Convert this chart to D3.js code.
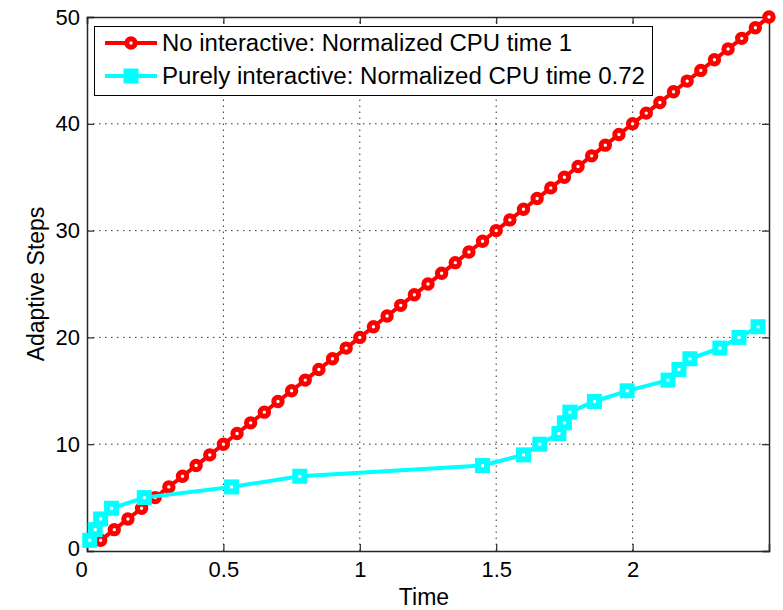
<!DOCTYPE html>
<html>
<head>
<meta charset="utf-8">
<script src="https://cdn.jsdelivr.net/npm/d3@7"></script>
<style>
  body { margin:0; background:#fff; }
  svg { display:block; font-family:"Liberation Sans", Arial, sans-serif; }
</style>
</head>
<body>
<svg id="chart" width="783" height="610"></svg>
<script>
// ===== DATA =====
const xTicks = [0, 0.5, 1, 1.5, 2];
const yTicks = [0, 10, 20, 30, 40, 50];
const legendLabels = ["No interactive: Normalized CPU time 1", "Purely interactive: Normalized CPU time 0.72"];

const noInterTime = [0.05,0.10,0.15,0.20,0.25,0.30,0.35,0.40,0.45,0.50,
                     0.55,0.60,0.65,0.70,0.75,0.80,0.85,0.90,0.95,1.00,
                     1.05,1.10,1.15,1.20,1.25,1.30,1.35,1.40,1.45,1.50,
                     1.55,1.60,1.65,1.70,1.75,1.80,1.85,1.90,1.95,2.00,
                     2.05,2.10,2.15,2.20,2.25,2.30,2.35,2.40,2.45,2.50];
const noInterSteps = [1,2,3,4,5,6,7,8,9,10,11,12,13,14,15,16,17,18,19,20,
                      21,22,23,24,25,26,27,28,29,30,31,32,33,34,35,36,37,38,39,40,
                      41,42,43,44,45,46,47,48,49,50];

const interTime  = [0.01,0.03,0.05,0.09,0.21,0.53,0.78,1.45,1.60,1.66,1.73,1.75,1.77,1.86,1.98,2.13,2.17,2.21,2.32,2.39,2.46];
const interSteps = [1,2,3,4,5,6,7,8,9,10,11,12,13,14,15,16,17,18,19,20,21];

// ===== SETUP =====
const svg = d3.select("#chart");
const margin = {top:17, right:14, bottom:59, left:87};
const W = 783, H = 610;
const x = d3.scaleLinear().domain([0, 2.5]).range([margin.left, W - margin.right]);
const y = d3.scaleLinear().domain([0, 50]).range([H - margin.bottom, margin.top]);
const x0 = x.range()[0], x1 = x.range()[1], y0 = y.range()[0], y1 = y.range()[1];
const tickLen = 7;
const axisColor = "#262626";

// grid
svg.append("g").selectAll("line").data(xTicks.slice(1)).join("line")
  .attr("x1", d => x(d)).attr("x2", d => x(d)).attr("y1", y0).attr("y2", y1)
  .attr("stroke", "#333").attr("stroke-width", 1).attr("stroke-dasharray", "1.5,4.5");
svg.append("g").selectAll("line").data(yTicks.slice(1, -1)).join("line")
  .attr("x1", x0).attr("x2", x1).attr("y1", d => y(d)).attr("y2", d => y(d))
  .attr("stroke", "#333").attr("stroke-width", 1).attr("stroke-dasharray", "1.5,4.5");

// axes (inner ticks on all four sides)
const axBottom = svg.append("g").attr("transform", `translate(0,${y0})`)
  .call(d3.axisBottom(x).tickValues(xTicks).tickSize(-tickLen).tickPadding(12).tickFormat(d3.format("")));
const axTop = svg.append("g").attr("transform", `translate(0,${y1})`)
  .call(d3.axisTop(x).tickValues(xTicks).tickSize(-tickLen).tickFormat(""));
const axLeft = svg.append("g").attr("transform", `translate(${x0},0)`)
  .call(d3.axisLeft(y).tickValues(yTicks).tickSize(-tickLen).tickPadding(7));
const axRight = svg.append("g").attr("transform", `translate(${x1},0)`)
  .call(d3.axisRight(y).tickValues(yTicks).tickSize(-tickLen).tickFormat(""));

[axBottom, axTop, axLeft, axRight].forEach(g => {
  g.select(".domain").attr("stroke", axisColor).attr("stroke-width", 1.5);
  g.selectAll(".tick line").attr("stroke", axisColor).attr("stroke-width", 1.2);
  g.selectAll("text").attr("font-size", 22).attr("fill", "#000")
    .attr("font-family", "'Liberation Sans', Arial, sans-serif");
});
axBottom.selectAll(".tick text").attr("dy", "0.62em");
axBottom.selectAll(".tick").filter(d => d === 0).select("text").attr("dx", -6);
axLeft.selectAll(".tick").filter(d => d === 0).select("text").attr("dy", "0.2em");

// axis labels
svg.append("text").attr("x", (x0 + x1) / 2 - 4).attr("y", 605).attr("text-anchor", "middle")
  .attr("font-size", 23).text("Time");
svg.append("text").attr("transform", `translate(44,${(y0 + y1) / 2}) rotate(-90)`)
  .attr("text-anchor", "middle").attr("font-size", 23).text("Adaptive Steps");

// ===== SERIES =====
const line = d3.line().x(d => x(d[0])).y(d => y(d[1]));
const redData = noInterTime.map((t, i) => [t, noInterSteps[i]]);
const cyanData = interTime.map((t, i) => [t, interSteps[i]]);

svg.append("path").datum(redData).attr("d", line)
  .attr("fill", "none").attr("stroke", "#ff0000").attr("stroke-width", 4);
svg.append("g").selectAll("circle").data(redData).join("circle")
  .attr("cx", d => x(d[0])).attr("cy", d => y(d[1])).attr("r", 4.2)
  .attr("fill", "#fff").attr("stroke", "#ff0000").attr("stroke-width", 5);

svg.append("path").datum(cyanData).attr("d", line)
  .attr("fill", "none").attr("stroke", "#00ffff").attr("stroke-width", 4);
svg.append("g").selectAll("rect").data(cyanData).join("rect")
  .attr("x", d => x(d[0]) - 4.5).attr("y", d => y(d[1]) - 4.5).attr("width", 9).attr("height", 9)
  .attr("fill", "#fff").attr("stroke", "#00ffff").attr("stroke-width", 6);

// ===== LEGEND =====
const legend = svg.append("g");
legend.append("rect").attr("x", 94.5).attr("y", 26.5).attr("width", 558).attr("height", 69)
  .attr("fill", "#fff").attr("stroke", "#000").attr("stroke-width", 1);
const rows = [
  {label: legendLabels[0], color: "#ff0000", shape: "circle", cy: 43, len: 410},
  {label: legendLabels[1], color: "#00ffff", shape: "square", cy: 76, len: 483}
];
rows.forEach(r => {
  legend.append("line").attr("x1", 105).attr("x2", 157).attr("y1", r.cy).attr("y2", r.cy)
    .attr("stroke", r.color).attr("stroke-width", 4);
  if (r.shape === "circle") {
    legend.append("circle").attr("cx", 131).attr("cy", r.cy).attr("r", 4.2)
      .attr("fill", "#fff").attr("stroke", r.color).attr("stroke-width", 5);
  } else {
    legend.append("rect").attr("x", 131 - 4.5).attr("y", r.cy - 4.5).attr("width", 9).attr("height", 9)
      .attr("fill", r.color).attr("stroke", r.color).attr("stroke-width", 6);
  }
  legend.append("text").attr("x", 162).attr("y", r.cy).attr("dy", "0.36em")
    .attr("font-size", 23).attr("textLength", r.len).attr("lengthAdjust", "spacingAndGlyphs")
    .text(r.label);
});
</script>
</body>
</html>
